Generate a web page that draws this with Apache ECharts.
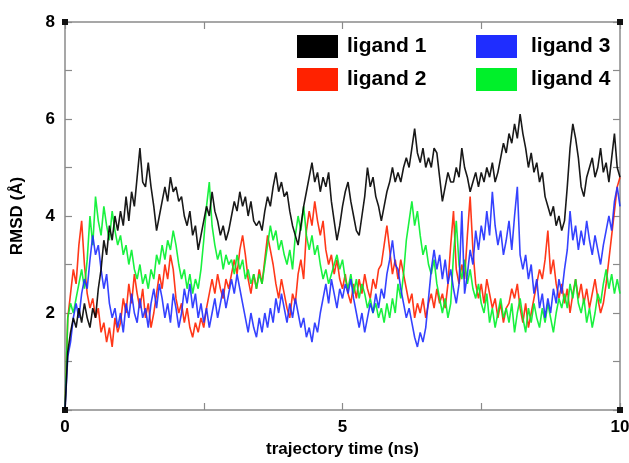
<!DOCTYPE html>
<html>
<head>
<meta charset="utf-8">
<script src="https://cdn.jsdelivr.net/npm/echarts@6/dist/echarts.min.js"></script>
<style>
  html, body { margin: 0; padding: 0; background: #fff; }
  #chart { width: 629px; height: 463px; }
</style>
</head>
<body>
<div id="chart"></div>
<script>
// RMSD values (Å), sampled every 0.05 ns from 0 to 10 ns
var timeStep = 0.05;

var ligand1 = [
  0.0, 1.2, 1.6, 1.9, 1.7, 2.1, 1.8, 2.2, 1.9, 1.7,
  2.1, 1.9, 2.5, 2.9, 3.5, 3.2, 3.8, 3.5, 4.0, 3.7,
  4.1, 3.8, 4.4, 3.9, 4.5, 4.2, 4.8, 5.4, 4.7, 4.6,
  5.1, 4.6, 4.2, 3.7, 4.0, 4.3, 4.6, 4.3, 4.8, 4.5,
  4.6, 4.3, 4.4, 4.0, 3.8, 4.1, 3.6, 3.8, 3.3, 3.6,
  3.9, 4.2, 4.0, 4.5, 4.1, 3.9, 3.6, 3.8, 3.5, 3.7,
  4.0, 4.3, 4.1, 4.5, 4.2, 4.4, 4.0, 4.3, 3.9, 3.8,
  3.9, 3.7, 4.1, 4.4, 4.2, 4.6, 4.9, 4.5, 4.7, 4.4,
  4.5, 4.1, 3.8, 3.6, 3.4, 3.8, 4.2, 4.5, 4.8, 5.1,
  4.7, 4.9, 4.5, 4.8, 4.6, 4.9, 4.3, 3.9, 3.5, 3.8,
  4.2, 4.5, 4.7, 4.3, 4.0, 3.7, 3.6, 4.0, 4.4, 5.0,
  4.6, 4.8, 4.4, 4.2, 3.9, 4.2, 4.5, 4.7, 5.0, 4.7,
  4.9, 4.7, 5.0, 5.2, 5.0, 5.4, 5.8, 5.3, 5.1, 5.4,
  5.0, 5.2, 5.0, 5.4, 5.3, 4.8, 4.3, 4.6, 4.9, 4.7,
  4.7, 5.0, 4.8, 5.4, 5.0, 4.8, 4.5, 4.7, 4.9, 4.6,
  4.9, 4.7, 5.0, 4.8, 5.1, 4.7, 4.9, 5.2, 5.5, 5.3,
  5.7, 5.5, 5.9, 5.6, 6.1, 5.7, 5.4, 5.0, 5.3, 4.9,
  5.1, 4.7, 4.9, 4.4, 4.2, 4.0, 4.2, 3.8, 4.0, 3.7,
  3.9, 4.6, 5.4, 5.9, 5.6, 5.2, 4.6, 4.4, 4.8, 5.0,
  5.2, 4.8, 5.0, 5.4, 4.9, 5.1, 4.7, 5.2, 5.7, 5.0, 4.8
];

var ligand2 = [
  0.0, 1.9, 2.4, 2.9, 2.6, 3.4, 3.9, 3.0, 2.4, 2.1,
  2.3, 1.9, 2.1, 1.6, 1.8, 1.4, 1.7, 1.3, 1.9, 1.6,
  1.8, 2.3, 2.0, 2.6, 2.2, 2.8, 2.4, 2.1, 2.5, 1.9,
  2.2, 1.7, 2.0, 2.4, 2.8, 2.5, 3.0, 2.7, 3.2, 2.9,
  2.3, 2.0, 2.2, 1.8, 2.1, 1.7, 1.5, 1.8, 1.6, 1.9,
  1.7, 2.1, 2.4, 2.7, 2.4, 2.8, 2.5, 2.3, 2.7, 2.5,
  2.8, 3.1, 2.8, 3.3, 3.6, 3.2, 2.7, 2.4, 2.8, 2.5,
  2.9, 2.6, 3.1, 3.6, 3.3, 3.0, 2.6, 2.3, 2.7, 2.4,
  2.1, 1.9, 2.4, 2.2, 2.8, 3.1, 2.7, 3.7, 4.1, 3.8,
  4.3, 3.9, 3.6, 3.9, 3.3, 3.0, 3.2, 2.8, 3.1, 2.7,
  2.5, 2.8, 2.4, 2.2, 2.6, 2.3, 2.7, 2.4, 2.8, 2.5,
  2.3, 2.7, 2.5, 2.9, 3.0, 3.4, 3.8, 3.3, 2.8, 3.1,
  2.7, 3.1, 2.8, 2.5, 2.2, 2.4, 1.9, 2.2, 2.0, 2.3,
  1.9, 2.2, 2.4, 2.1, 2.5, 2.2, 2.4, 2.1, 2.6, 3.4,
  4.1, 2.9, 2.6, 3.0, 2.7, 3.6, 4.4, 3.3, 2.6, 2.3,
  2.6, 2.2, 2.7, 2.4, 2.1, 2.3, 1.9, 2.2, 1.8, 2.1,
  2.2, 2.5, 2.3, 2.6, 2.1, 1.8, 2.2, 1.7, 2.0, 2.3,
  2.6, 2.9, 2.7, 3.1, 3.7, 2.8, 3.1, 2.6, 2.3, 2.6,
  2.2, 2.5, 2.0, 2.4, 2.7, 2.3, 2.6, 2.2, 2.5, 2.1,
  2.4, 2.7, 2.3, 2.0, 2.2, 2.6, 3.1, 3.6, 4.1, 4.6, 4.8
];

var ligand3 = [
  0.0, 1.1, 1.4, 1.9, 2.2, 1.9, 2.4, 2.7, 2.5, 3.1,
  3.6, 3.2, 3.4, 2.9, 2.5, 2.8, 2.2, 1.9, 2.1, 1.7,
  2.0, 1.6, 2.2, 1.9, 2.4, 2.0, 1.8, 2.3, 1.9, 2.1,
  1.7, 2.2, 2.5, 2.1, 2.6, 2.3, 1.9, 2.2, 1.8, 2.4,
  2.1, 1.7, 2.0, 2.5, 2.2, 2.6, 2.1, 2.4, 1.9, 2.2,
  1.8, 2.1, 1.7, 2.0, 2.3, 1.9, 2.2, 2.5, 2.1, 2.4,
  2.7, 2.4, 2.8, 2.5, 2.2, 1.9, 1.6, 2.0, 1.7, 1.5,
  1.9, 1.6, 2.0, 1.7, 2.1, 1.8, 2.3, 2.0, 2.4, 2.1,
  1.8, 2.2, 1.9, 2.3, 2.0, 1.7, 1.9, 1.5, 1.7, 1.4,
  1.8, 1.6, 2.0, 2.3, 2.6, 2.2, 2.7, 2.4, 2.1, 2.5,
  2.3, 2.6, 2.4, 2.7, 2.3, 2.0, 1.7, 2.0, 1.6, 1.9,
  2.2, 2.0, 2.4, 2.1, 2.5, 2.3, 2.8, 3.1, 3.5, 3.0,
  2.9, 2.5, 2.2, 1.9, 2.1, 1.8, 1.5, 1.3, 1.6, 1.4,
  1.7, 2.3, 2.9, 3.3, 2.9, 3.2, 2.7, 3.1, 2.6, 2.9,
  2.5, 2.2, 2.6, 4.1, 2.4, 2.8, 3.3, 3.0, 3.7, 3.3,
  3.8, 3.5, 4.1, 3.6, 4.5, 3.8, 3.4, 3.7, 3.2, 3.5,
  3.9, 3.3, 4.0, 4.6, 3.2, 2.9, 3.2, 2.7, 3.0, 2.4,
  2.7, 2.1, 2.4, 1.9, 2.3, 2.0, 2.5, 2.2, 2.7, 2.4,
  2.9, 3.3, 4.1, 3.5, 3.8, 3.3, 3.7, 3.4, 3.9, 3.5,
  3.2, 3.6, 3.3, 3.0, 3.4, 3.7, 4.0, 3.7, 4.3, 4.6, 4.2
];

var ligand4 = [
  0.0, 1.9, 2.2, 2.0, 2.3, 2.6, 2.9, 2.5, 3.1, 4.0,
  3.4, 4.4, 3.9, 3.6, 4.2, 3.8, 3.5, 4.1, 3.7, 3.4,
  3.6, 3.2, 3.4, 3.0, 3.3, 2.9, 2.7, 3.0, 2.6, 2.8,
  2.5, 2.9, 2.7, 3.2, 3.0, 3.4, 3.1, 3.5, 3.3, 3.7,
  3.4, 3.0, 2.7, 2.9, 2.5, 2.8, 2.4, 2.7, 2.5, 2.9,
  3.5, 4.2, 4.7, 3.8, 3.4, 3.1, 3.3, 2.9, 3.2, 3.0,
  3.1, 2.8, 3.2, 2.9, 3.1, 2.7, 2.9, 2.6, 2.8, 2.5,
  2.8, 2.6, 3.0, 3.4, 3.8, 3.5, 3.7, 3.3, 3.5, 3.2,
  3.0, 3.3, 2.9, 3.6, 4.0, 3.7, 4.2, 3.6, 3.3, 3.6,
  3.2, 3.4, 3.0, 2.7, 2.9, 2.6, 2.8, 3.0, 3.2, 2.9,
  3.1, 2.7, 2.5, 2.8, 2.4, 2.7, 2.3, 2.6, 2.4, 2.1,
  2.3, 2.0, 2.2, 1.9, 2.1, 1.8, 2.2, 1.9, 2.3, 2.0,
  2.6, 2.3, 2.8, 3.5, 3.9, 4.3, 3.8, 4.1, 3.6, 3.2,
  3.4, 3.0, 2.8, 3.1, 2.6, 2.3, 2.0, 2.3, 1.9, 2.2,
  3.2, 3.9, 3.0, 2.7, 3.1, 2.6, 2.9, 2.5, 2.3, 2.6,
  2.2, 2.0, 2.4, 1.8, 2.1, 1.7, 2.0, 2.3, 1.9, 2.1,
  1.8, 2.2, 1.6, 2.0, 2.3, 1.9, 1.6, 2.1, 1.8, 2.2,
  1.9, 1.7, 2.1, 1.8, 2.2, 1.9, 1.6, 2.0, 2.3, 2.1,
  2.4, 2.1, 2.6, 2.3, 2.7, 2.2, 2.0, 2.3, 1.8, 2.1,
  1.7, 2.0, 2.4, 2.2, 2.6, 2.9, 2.5, 2.8, 2.4, 2.7, 2.4
];

// only these tick values get a label
var xTickLabels = { 0: '0', 5: '5', 10: '10' };
var yTickLabels = { 2: '2', 4: '4', 6: '6', 8: '8' };

// small black squares on the frame corners
var frameCorners = [[0, 0], [0, 8], [10, 0], [10, 8]];

var colors = {
  'ligand 1': '#000000',
  'ligand 2': '#ff2200',
  'ligand 3': '#1f2dff',
  'ligand 4': '#00f02a'
};

function toPairs(values) {
  return values.map(function (v, i) {
    return [+(i * timeStep).toFixed(2), v];
  });
}

var chart = echarts.init(document.getElementById('chart'));

var labelFont = {
  color: '#000',
  fontFamily: 'Liberation Sans, Arial, sans-serif',
  fontWeight: 'bold',
  fontSize: 17
};

function lineSeries(name, values, z) {
  return {
    name: name,
    type: 'line',
    data: toPairs(values),
    showSymbol: false,
    symbol: 'none',
    z: z,
    lineStyle: { color: colors[name], width: 1.6, opacity: 0.9 },
    itemStyle: { color: colors[name] },
    emphasis: { disabled: true },
    animation: false
  };
}

// onZero off, otherwise the top/right axes jump onto the 0 lines
var frameLine = { show: true, onZero: false, lineStyle: { color: '#8a8a8a', width: 1.5 } };
var tickStyle = { show: true, inside: true, length: 7, lineStyle: { color: '#8a8a8a', width: 1.2 } };

var legendText = {
  color: '#000',
  fontFamily: 'Liberation Sans, Arial, sans-serif',
  fontWeight: 'bold',
  fontSize: 21,
  padding: [0, 0, 0, 4]
};

var series = [
  lineSeries('ligand 1', ligand1, 5),
  lineSeries('ligand 2', ligand2, 2),
  lineSeries('ligand 4', ligand4, 3),
  lineSeries('ligand 3', ligand3, 4)
];
series[0].markPoint = {
  symbol: 'rect',
  symbolSize: 6,
  silent: true,
  label: { show: false },
  itemStyle: { color: '#111' },
  data: frameCorners.map(function (c) { return { coord: c }; })
};

var option = {
  backgroundColor: '#fff',
  animation: false,
  grid: { left: 65, right: 9, top: 22, bottom: 53, outerBoundsMode: 'none' },
  legend: [
    {
      data: ['ligand 1', 'ligand 2'],
      orient: 'vertical',
      left: 297, top: 35, padding: 0,
      icon: 'rect', itemWidth: 41, itemHeight: 23, itemGap: 10,
      textStyle: legendText,
      selectedMode: false
    },
    {
      data: ['ligand 3', 'ligand 4'],
      orient: 'vertical',
      left: 476, top: 35, padding: 0,
      icon: 'rect', itemWidth: 41, itemHeight: 23, itemGap: 10,
      textStyle: Object.assign({}, legendText, { padding: [0, 0, 0, 9] }),
      selectedMode: false
    }
  ],
  xAxis: [
    {
      type: 'value', min: 0, max: 10, interval: 2.5,
      position: 'bottom',
      name: 'trajectory time (ns)',
      nameLocation: 'middle', nameGap: 30,
      nameTextStyle: labelFont,
      axisLine: frameLine,
      axisTick: tickStyle,
      splitLine: { show: false },
      axisLabel: Object.assign({}, labelFont, {
        margin: 9,
        formatter: function (v) { return xTickLabels[v] || ''; }
      })
    },
    {
      type: 'value', min: 0, max: 10, interval: 2.5,
      position: 'top',
      axisLine: frameLine,
      axisTick: tickStyle,
      splitLine: { show: false },
      axisLabel: { show: false }
    }
  ],
  yAxis: [
    {
      type: 'value', min: 0, max: 8, interval: 1,
      position: 'left',
      name: 'RMSD (Å)',
      nameLocation: 'middle', nameGap: 39, nameRotate: 90,
      nameTextStyle: labelFont,
      axisLine: frameLine,
      axisTick: tickStyle,
      splitLine: { show: false },
      axisLabel: Object.assign({}, labelFont, {
        margin: 10,
        formatter: function (v) { return yTickLabels[v] || ''; }
      })
    },
    {
      type: 'value', min: 0, max: 8, interval: 1,
      position: 'right',
      axisLine: frameLine,
      axisTick: tickStyle,
      splitLine: { show: false },
      axisLabel: { show: false }
    }
  ],
  series: series
};

chart.setOption(option);
</script>
</body>
</html>
